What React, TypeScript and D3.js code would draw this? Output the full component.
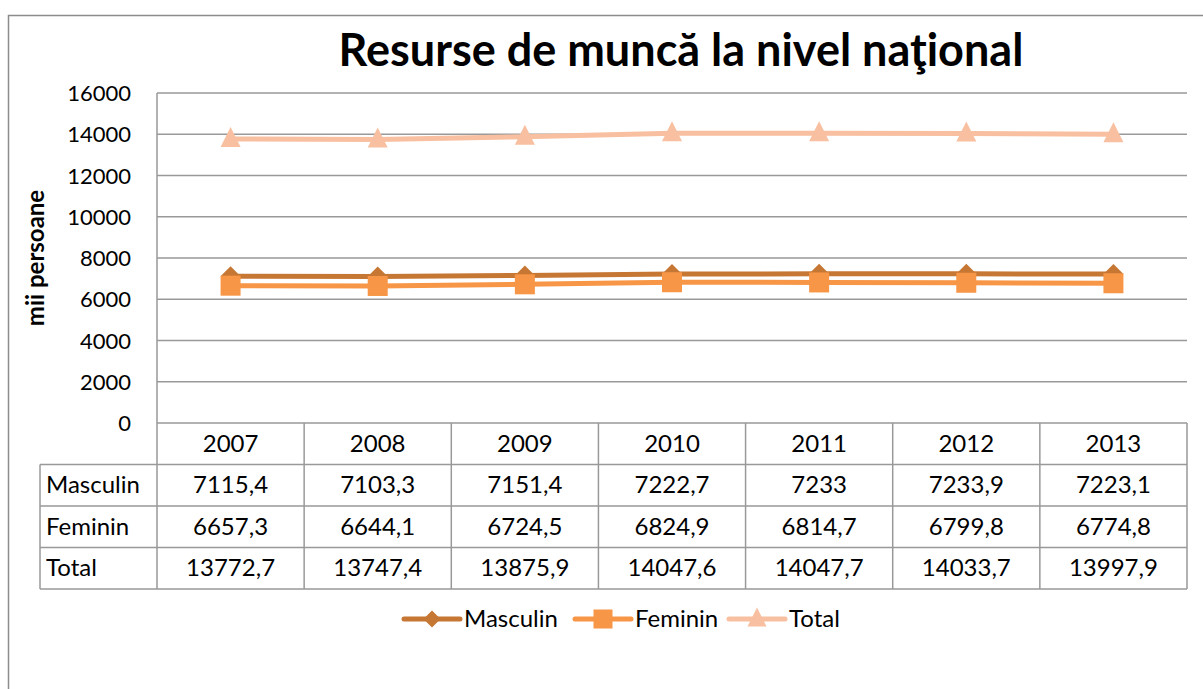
import { useEffect, useRef } from "react";
import * as d3 from "d3";

const years = ["2007", "2008", "2009", "2010", "2011", "2012", "2013"];
const masculin = [7115.4, 7103.3, 7151.4, 7222.7, 7233, 7233.9, 7223.1];
const feminin = [6657.3, 6644.1, 6724.5, 6824.9, 6814.7, 6799.8, 6774.8];
const total = [13772.7, 13747.4, 13875.9, 14047.6, 14047.7, 14033.7, 13997.9];
const yTicks = [0, 2000, 4000, 6000, 8000, 10000, 12000, 14000, 16000];

const seriesNames = ["Masculin", "Feminin", "Total"];
const seriesColors = ["#C77734", "#F79646", "#F8BFA0"];
const seriesShapes = ["diamond", "square", "triangle"];

const FONT = "Lato, 'Open Sans', sans-serif";

export default function App() {
  const ref = useRef<SVGSVGElement>(null);

  useEffect(() => {
    if (!ref.current) return;
    const svg = d3.select(ref.current);
    svg.selectAll("*").remove();

    const left = 157;
    const right = 1187;
    const top = 93;
    const bottom = 423;
    const rowH = 41.5;
    const labelLeft = 40;

    const x = d3.scaleBand().domain(years).range([left, right]);
    const y = d3.scaleLinear().domain([0, 16000]).range([bottom, top]);
    const cx = (yr: string) => (x(yr) as number) + x.bandwidth() / 2;

    // outer frame
    svg
      .append("rect")
      .attr("x", 8.5)
      .attr("y", 15.5)
      .attr("width", 1220)
      .attr("height", 700)
      .attr("fill", "white")
      .attr("stroke", "#8c8c8c")
      .attr("stroke-width", 1.5);

    // title
    svg
      .append("text")
      .attr("x", 681)
      .attr("y", 66)
      .attr("text-anchor", "middle")
      .attr("font-family", FONT)
      .attr("font-weight", "bold")
      .attr("font-size", 45)
      .text("Resurse de muncă la nivel naţional");

    // gridlines
    const grid = "#999999";
    svg
      .append("g")
      .selectAll("line")
      .data(yTicks)
      .join("line")
      .attr("x1", left)
      .attr("x2", right)
      .attr("y1", (d) => y(d))
      .attr("y2", (d) => y(d))
      .attr("stroke", grid)
      .attr("stroke-width", 1.5);

    svg
      .append("line")
      .attr("x1", left)
      .attr("x2", left)
      .attr("y1", top)
      .attr("y2", bottom)
      .attr("stroke", grid)
      .attr("stroke-width", 1.5);

    // y tick labels
    svg
      .append("g")
      .selectAll("text")
      .data(yTicks)
      .join("text")
      .attr("x", 131)
      .attr("y", (d) => y(d) + 8)
      .attr("text-anchor", "end")
      .attr("font-family", FONT)
      .attr("font-size", 22)
      .text((d) => String(d));

    // y axis title
    svg
      .append("text")
      .attr("transform", `translate(44, ${(top + bottom) / 2}) rotate(-90)`)
      .attr("text-anchor", "middle")
      .attr("font-family", FONT)
      .attr("font-weight", "bold")
      .attr("font-size", 24)
      .text("mii persoane");

    // data table
    const tableBottom = bottom + rowH * 4;
    const tbl = svg.append("g").attr("stroke", grid).attr("stroke-width", 1.5);
    years.forEach((yr) => {
      tbl
        .append("line")
        .attr("x1", (x(yr) as number) + x.bandwidth())
        .attr("x2", (x(yr) as number) + x.bandwidth())
        .attr("y1", bottom)
        .attr("y2", tableBottom);
    });
    tbl
      .append("line")
      .attr("x1", left)
      .attr("x2", left)
      .attr("y1", bottom)
      .attr("y2", tableBottom);
    tbl
      .append("line")
      .attr("x1", labelLeft)
      .attr("x2", labelLeft)
      .attr("y1", bottom + rowH)
      .attr("y2", tableBottom);
    [1, 2, 3, 4].forEach((i) => {
      tbl
        .append("line")
        .attr("x1", labelLeft)
        .attr("x2", right)
        .attr("y1", bottom + rowH * i)
        .attr("y2", bottom + rowH * i);
    });

    const textG = svg
      .append("g")
      .attr("font-family", FONT)
      .attr("font-size", 24)
      .attr("fill", "#000");
    textG
      .selectAll("text.yr")
      .data(years)
      .join("text")
      .attr("class", "yr")
      .attr("x", (d) => cx(d))
      .attr("y", bottom + rowH / 2 + 8)
      .attr("text-anchor", "middle")
      .text((d) => d);

    const fmt = (v: number) => String(v).replace(".", ",");
    [masculin, feminin, total].forEach((vals, i) => {
      const rowY = bottom + rowH * (i + 1) + rowH / 2 + 8;
      textG
        .append("text")
        .attr("x", labelLeft + 6)
        .attr("y", rowY)
        .text(seriesNames[i]);
      vals.forEach((v, j) => {
        textG
          .append("text")
          .attr("x", cx(years[j]))
          .attr("y", rowY)
          .attr("text-anchor", "middle")
          .text(fmt(v));
      });
    });

    // markers
    const drawMarker = (
      g: d3.Selection<SVGGElement, unknown, null, undefined>,
      shape: string,
      px: number,
      py: number,
      color: string,
      s: number
    ) => {
      const h = s / 2;
      if (shape === "diamond") {
        g.append("path")
          .attr("d", `M${px},${py - h}L${px + h},${py}L${px},${py + h}L${px - h},${py}Z`)
          .attr("fill", color);
      } else if (shape === "square") {
        g.append("rect")
          .attr("x", px - h)
          .attr("y", py - h)
          .attr("width", s)
          .attr("height", s)
          .attr("fill", color);
      } else {
        g.append("path")
          .attr("d", `M${px},${py - h - 2}L${px + h},${py + h - 2}L${px - h},${py + h - 2}Z`)
          .attr("fill", color);
      }
    };

    // lines
    const line = d3
      .line<number>()
      .x((_, i) => cx(years[i]))
      .y((d) => y(d));
    [masculin, feminin, total].forEach((vals, i) => {
      const g = svg.append("g");
      g.append("path")
        .attr("d", line(vals) as string)
        .attr("fill", "none")
        .attr("stroke", seriesColors[i])
        .attr("stroke-width", 5)
        .attr("stroke-linejoin", "round")
        .attr("stroke-linecap", "round");
      vals.forEach((v, j) => drawMarker(g, seriesShapes[i], cx(years[j]), y(v), seriesColors[i], 20));
    });

    // legend
    const legendY = 619;
    const legendX = [404, 575, 729];
    seriesNames.forEach((name, i) => {
      const g = svg.append("g");
      const lx = legendX[i];
      g.append("line")
        .attr("x1", lx)
        .attr("x2", lx + 56)
        .attr("y1", legendY)
        .attr("y2", legendY)
        .attr("stroke", seriesColors[i])
        .attr("stroke-width", 5)
        .attr("stroke-linecap", "round");
      drawMarker(g, seriesShapes[i], lx + 28, legendY, seriesColors[i], i === 0 ? 17 : 19);
      g.append("text")
        .attr("x", lx + 60)
        .attr("y", legendY + 8)
        .attr("font-family", FONT)
        .attr("font-size", 24)
        .text(name);
    });
  }, []);

  return (
    <svg
      ref={ref}
      width={1203}
      height={689}
      style={{ position: "absolute", left: 0, top: 0, display: "block", background: "white" }}
    />
  );
}
